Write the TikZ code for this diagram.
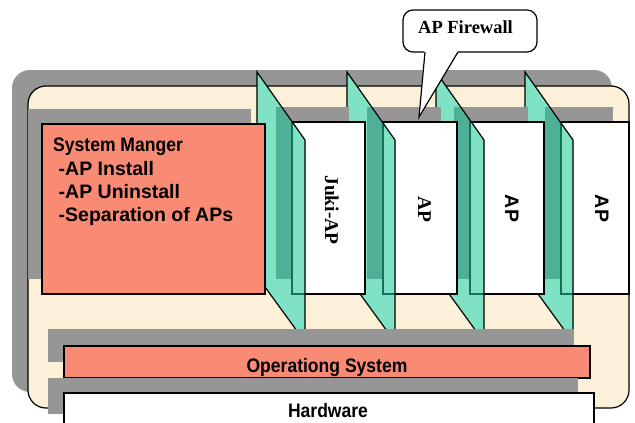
\documentclass[tikz,border=0pt]{standalone}
\usepackage{fontspec}
\setmainfont{Liberation Serif}
\newfontfamily\plainsans{Liberation Sans}
\newfontfamily\narrowsans[FakeStretch=0.9]{Liberation Sans}

\definecolor{cream}{RGB}{252,241,216}
\definecolor{shadowgray}{RGB}{150,150,150}
\definecolor{salmon}{RGB}{249,138,115}
\definecolor{walllight}{RGB}{128,226,196}
\definecolor{walldark}{RGB}{78,176,150}
\definecolor{wallline}{RGB}{22,112,86}

\begin{document}
\begin{tikzpicture}[x=1pt,y=-1pt,
  edge/.style={draw=black,line width=1.2pt},
  boxtext/.style={inner sep=0pt,font=\fontsize{19.5}{23}\selectfont},
  smline/.style={boxtext,anchor=base west,font=\fontsize{19.5}{23}\selectfont\plainsans\bfseries},
  sideserif/.style={boxtext,rotate=-90,anchor=base,font=\fontsize{19.5}{23}\selectfont\bfseries},
  sidesans/.style={boxtext,rotate=-90,anchor=base,font=\fontsize{19.5}{23}\selectfont\plainsans\bfseries},
  layertext/.style={boxtext,anchor=base,font=\fontsize{19.5}{23}\selectfont\narrowsans\bfseries}]
\useasboundingbox (0,0) rectangle (635,423);
\clip (0,0) rectangle (635,423);

% housing with its drop shadow
\fill[shadowgray,rounded corners=18] (12,70) rectangle (612,392);
\draw[edge,fill=cream,rounded corners=18] (28,86) rectangle (629,408);

% application panels with their firewall walls, right to left
\foreach \wl/\pl/\pw in {525/561/68, 436/470/74, 347/383/74, 257/292/73} {
  \fill[shadowgray] (\pl-16,107) rectangle (\pl+\pw-16,279);
  \draw[edge,fill=white] (\pl,122) rectangle (\pl+\pw,294);
  \begin{scope}
    \clip (\wl,72) -- (\wl+48,140) -- (\wl+48,342) -- (\wl,276) -- cycle;
    \fill[walllight] (\wl-2,60) rectangle (\wl+50,350);
    \fill[walldark] (\pl-16,107) rectangle (\pl+\pw-16,279);
    \fill[walllight] (\pl,122) rectangle (\pl+\pw,294);
    \draw[wallline,line width=1.2pt] (\pl,122) rectangle (\pl+\pw,294);
  \end{scope}
  \draw[edge,line join=miter] (\wl,72) -- (\wl+48,140) -- (\wl+48,342) -- (\wl,276) -- cycle;
}

\node[sideserif] (juki) at (325,210) {Juki-AP};
\node[sideserif] (ap1) at (418,209.5) {AP};
\node[sidesans] (ap2) at (505,208.5) {AP};
\node[sidesans] (ap3) at (595,208.5) {AP};

% system manager
\fill[shadowgray] (28,109) rectangle (251,279);
\draw[edge,fill=salmon] (42,124) rectangle (265,294);
\node[boxtext,anchor=base west,font=\fontsize{19.5}{23}\selectfont\narrowsans\bfseries] (smtitle) at (53,151.5) {System Manger};
\node[smline] (sminstall) at (58.5,175) {-AP Install};
\node[smline] (smuninstall) at (58.5,198.3) {-AP Uninstall};
\node[smline] (smseparation) at (58.5,221.6) {-Separation of APs};

% operating system layer
\fill[shadowgray] (48,329) rectangle (574,362);
\draw[edge,fill=salmon] (64,346) rectangle (590,378);
\node[layertext] (os) at (327,372) {Operationg System};

% hardware layer
\fill[shadowgray] (48,378) rectangle (578,414);
\draw[edge,fill=white] (64,393) rectangle (594,440);
\node[layertext] (hw) at (328,417) {Hardware};

% callout
\draw[edge,fill=white,rounded corners=10] (403,10) rectangle (537,52);
\fill[white] (424.4,50) -- (419,117) -- (458.8,50) -- cycle;
\draw[edge,line join=miter] (425,52) -- (419,117) -- (458,52);
\node[boxtext,anchor=base,font=\fontsize{18.5}{22}\selectfont\bfseries] (fw) at (465.5,33) {AP Firewall};
\end{tikzpicture}
\end{document}
